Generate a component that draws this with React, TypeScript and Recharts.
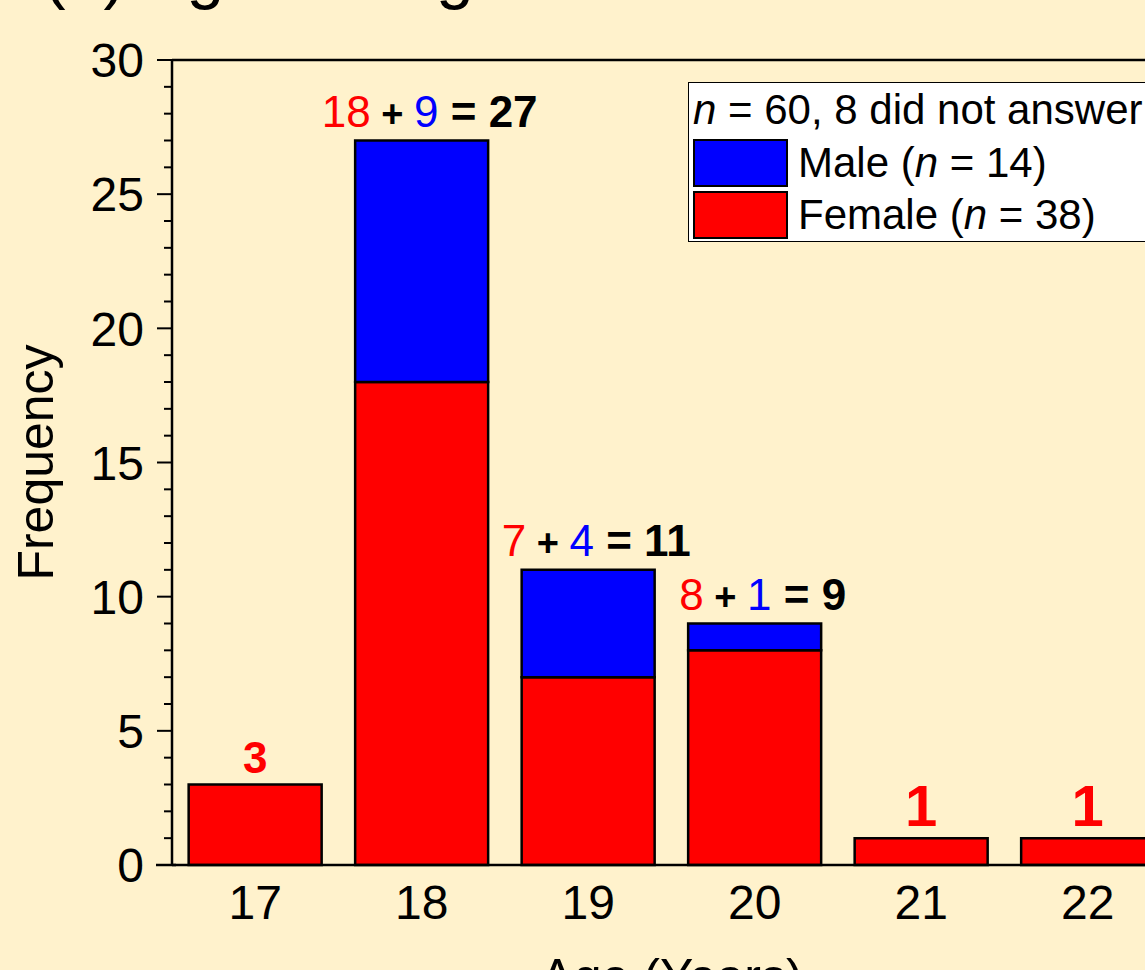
import { BarChart, Bar, XAxis, YAxis, LabelList, Legend, ReferenceLine } from "recharts";

const ages = ["17", "18", "19", "20", "21", "22"];
const female = [3, 18, 7, 8, 1, 1];
const male = [0, 9, 4, 1, 0, 0];
const yTicks = [0, 1, 2, 3, 4, 5, 6, 7, 8, 9, 10, 11, 12, 13, 14, 15, 16, 17, 18, 19, 20, 21, 22, 23, 24, 25, 26, 27, 28, 29, 30];

const data = ages.map((age, i) => ({ age, female: female[i], male: male[i] }));

const FONT = "'Liberation Sans', Arial, sans-serif";
const BG = "#FFF2CC";
const RED = "#FF0000";
const BLUE = "#0000FF";

// bigger font for the lone "1" labels, as in the original figure
const singleSize: Record<string, number> = { "17": 44, "21": 58, "22": 58 };

function YTick({ x, y, payload }: any) {
  const major = payload.value % 5 === 0;
  return (
    <g>
      <line x1={x - (major ? 15 : 8)} x2={x} y1={y} y2={y} stroke="#000" strokeWidth={2} />
      {major && (
        <text x={x - 28} y={y} dy="0.36em" textAnchor="end" fontSize={48} fontFamily={FONT} fill="#000">
          {payload.value}
        </text>
      )}
    </g>
  );
}

// attached to the female bar (never empty); the stack top is found from the bar's own scale
function TopLabel(props: any) {
  const { x, y, width, height, value } = props;
  const i = ages.indexOf(String(value));
  if (i < 0) return null;
  const f = female[i];
  const m = male[i];
  const perUnit = height / f;
  const top = y - m * perUnit;
  const cx = x + width / 2;
  if (m === 0) {
    return (
      <text x={cx} y={top - 12} textAnchor="middle" fontSize={singleSize[ages[i]] ?? 44} fontWeight="bold" fontFamily={FONT} fill={RED}>
        {f}
      </text>
    );
  }
  return (
    <text x={cx + 8} y={top - 14} textAnchor="middle" fontSize={44} fontFamily={FONT}>
      <tspan fill={RED}>{f}</tspan>
      <tspan fill="#000" fontWeight="bold" fontSize={38}> + </tspan>
      <tspan fill={BLUE}>{m}</tspan>
      <tspan fill="#000" fontWeight="bold"> = {f + m}</tspan>
    </text>
  );
}

function LegendBox() {
  const swatch = (c: string) => (
    <div style={{ width: 91, height: 44, background: c, border: "2px solid #000", marginRight: 10 }} />
  );
  return (
    <div style={{ background: "#fff", border: "1.5px solid #000", fontFamily: FONT, fontSize: 42, color: "#000", paddingLeft: 4, lineHeight: 1 }}>
      <div style={{ height: 54, display: "flex", alignItems: "center" }}>
        <span><i>n</i> = 60, 8 did not answer</span>
      </div>
      <div style={{ height: 52, display: "flex", alignItems: "center" }}>
        {swatch(BLUE)}
        <span>Male (<i>n</i> = 14)</span>
      </div>
      <div style={{ height: 52, display: "flex", alignItems: "center" }}>
        {swatch(RED)}
        <span>Female (<i>n</i> = 38)</span>
      </div>
    </div>
  );
}

export default function App() {
  return (
    <div style={{ position: "fixed", left: 0, top: 0, width: 1145, height: 970, overflow: "hidden", background: BG }}>
      <svg width={1145} height={60} style={{ position: "absolute", left: 0, top: 0 }}>
        <text x={43} y={-4} fontSize={68} fontFamily={FONT} fill="#000">(a) Age Histogram</text>
      </svg>
      <svg width={20} height={4} style={{ position: "absolute", left: 156, top: 863 }}>
        <line x1={0} x2={20} y1={2} y2={2} stroke="#000" strokeWidth={2.5} />
      </svg>
      <BarChart
        width={1230}
        height={1010}
        data={data}
        margin={{ top: 60, right: 59, bottom: 45, left: 0 }}
        barCategoryGap="10%"
      >
        <XAxis
          dataKey="age"
          height={100}
          tickLine={false}
          tickSize={0}
          tickMargin={20}
          axisLine={{ stroke: "#000", strokeWidth: 2.5 }}
          tick={{ fontSize: 48, fill: "#000", fontFamily: FONT }}
          label={(p: any) => (
            <text x={p.viewBox.x + p.viewBox.width / 2} y={p.viewBox.y + 129} textAnchor="middle" fontSize={50} fontFamily={FONT} fill="#000">
              Age (Years)
            </text>
          )}
        />
        <YAxis
          width={172}
          domain={[0, 30]}
          ticks={yTicks}
          interval={0}
          tickLine={false}
          tickSize={0}
          tickMargin={0}
          axisLine={{ stroke: "#000", strokeWidth: 2.5 }}
          tick={<YTick />}
          label={(p: any) => {
            const cy = p.viewBox.y + p.viewBox.height / 2;
            return (
              <text x={53} y={cy} transform={`rotate(-90, 53, ${cy})`} textAnchor="middle" fontSize={50} fontFamily={FONT} fill="#000">
                Frequency
              </text>
            );
          }}
        />
        <ReferenceLine y={30} stroke="#000" strokeWidth={2.5} />
        <Legend
          layout="vertical"
          align="center"
          verticalAlign="middle"
          wrapperStyle={{ left: 688, top: 82, width: 480 }}
          content={() => <LegendBox />}
        />
        <Bar dataKey="female" stackId="a" fill={RED} stroke="#000" strokeWidth={2.5} isAnimationActive={false}>
          <LabelList dataKey="age" content={<TopLabel />} />
        </Bar>
        <Bar dataKey="male" stackId="a" fill={BLUE} stroke="#000" strokeWidth={2.5} isAnimationActive={false} />
      </BarChart>
    </div>
  );
}
